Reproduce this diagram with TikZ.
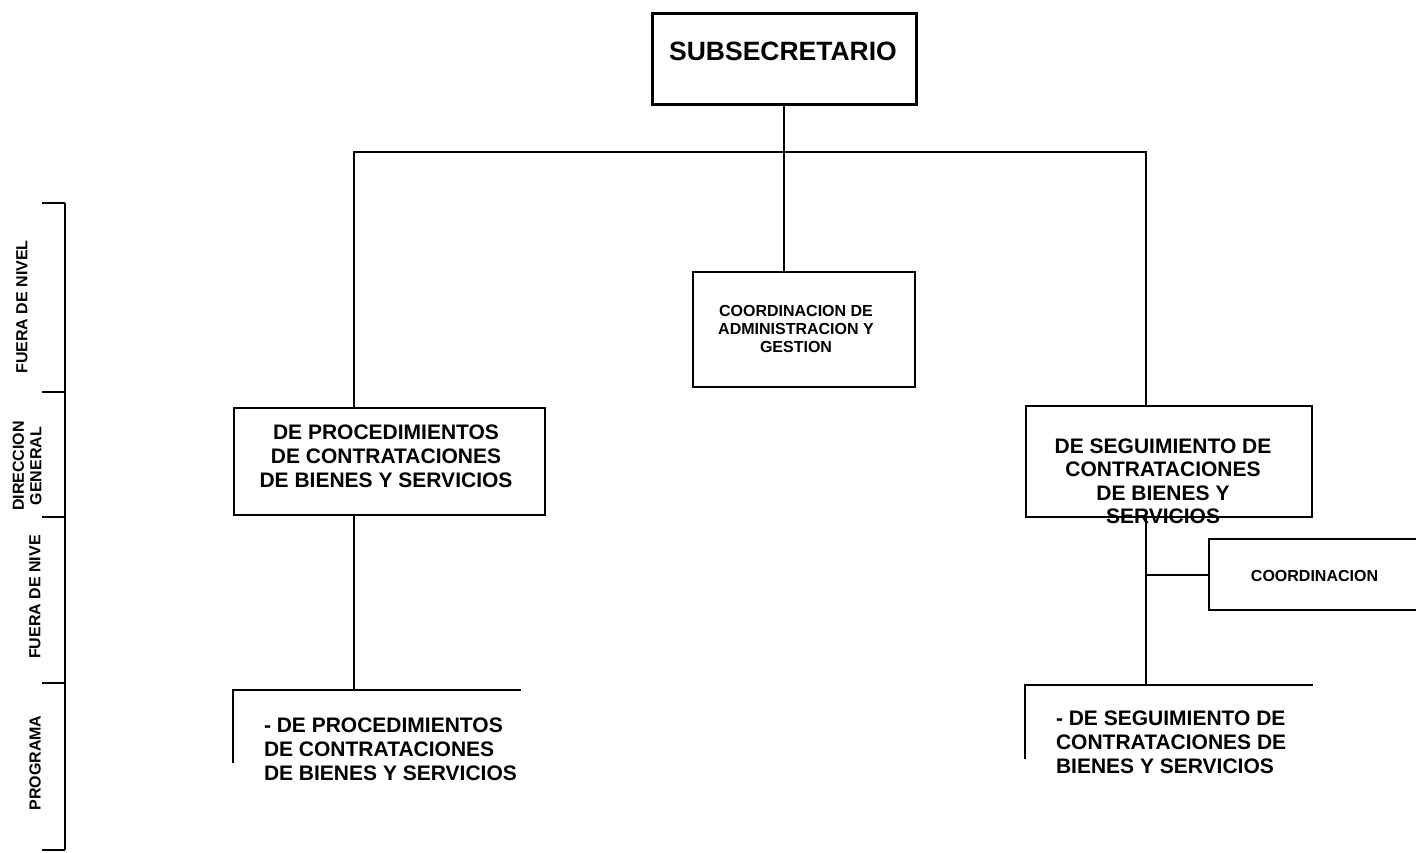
\documentclass[tikz,border=0pt]{standalone}
\usepackage{fontspec}
\setmainfont{Liberation Sans}
\tikzset{
	box/.style={draw, rectangle, inner sep=0pt},
	frame/.style={rectangle, inner sep=0pt},
	txt/.style={inner sep=0pt, align=center, font=\fontsize{21}{24}\selectfont\bfseries},
	smalltxt/.style={inner sep=0pt, align=center, font=\fontsize{16}{18}\selectfont\bfseries},
	side/.style={inner sep=0pt, align=center, rotate=90, font=\fontsize{16}{17.5}\selectfont\bfseries},
}
\begin{document}
\begin{tikzpicture}[x=1pt, y=-1pt, line width=2pt]
			\clip (0,0) rectangle (1416,852);
			% boxes
			\node[box, line width=3pt, minimum width=264pt, minimum height=91pt] (subsec) at (784,58.5) {};
			\node[box, minimum width=222pt, minimum height=115pt] (admin) at (804,329.5) {};
			\node[box, minimum width=311pt, minimum height=107pt] (proc) at (389.5,461.5) {};
			\node[box, minimum width=286pt, minimum height=111pt] (seg) at (1169,461.5) {};
			\node[box, minimum width=216pt, minimum height=71pt] (coord) at (1317,574.5) {};
			\node[frame, minimum width=286pt, minimum height=71pt] (progproc) at (377,726.5) {};
			\node[frame, minimum width=286pt, minimum height=72pt] (progseg) at (1169,722) {};
			\draw (progproc.north east) -- (progproc.north west) -- (progproc.south west);
			\draw (progseg.north east) -- (progseg.north west) -- (progseg.south west);
			% texts
			\node[txt, font=\fontsize{26.5}{30}\selectfont\bfseries] (subsectxt) at (783,51) {SUBSECRETARIO};
			\node[smalltxt] (admintxt) at (796,329) {COORDINACION DE\\ADMINISTRACION Y\\GESTION};
			\node[txt] (proctxt) at (386,456) {DE PROCEDIMIENTOS\\DE CONTRATACIONES\\DE BIENES Y SERVICIOS};
			\node[txt, font=\fontsize{21}{23.5}\selectfont\bfseries] (segtxt) at (1163,481.5) {DE SEGUIMIENTO DE\\CONTRATACIONES\\DE BIENES Y\\SERVICIOS};
			\node[smalltxt] (coordtxt) at (1314.5,576) {COORDINACION};
			\node[txt, align=left, anchor=west] (progproctxt) at (263,749.5) {- DE PROCEDIMIENTOS\\DE CONTRATACIONES\\DE BIENES Y SERVICIOS};
			\node[txt, align=left, anchor=west] (progsegtxt) at (1055,742.5) {- DE SEGUIMIENTO DE\\CONTRATACIONES DE\\BIENES Y SERVICIOS};
			% connectors
			\coordinate (barl) at (354,152);
			\coordinate (barr) at (1146,152);
			\draw (subsec.south) -- (subsec.south |- admin.north);
			\draw (barl |- proc.north) -- (barl) -- (barr) -- (barr |- seg.north);
			\draw (barl |- proc.south) -- (barl |- progproc.north);
			\draw (barr |- seg.south) -- (barr |- progseg.north);
			\draw (barr |- coord.west) -- (coord.west);
			% levels
			\coordinate (axtop) at (65,203);
			\coordinate (axbot) at (65,850);
			\draw (axtop) -- (axbot);
			\foreach \y in {203,392,517,683,850}
				\draw (42,\y) -- (axtop |- 0,\y);
			\node[side] (nivela) at (22,307) {FUERA DE NIVEL};
			\node[side] (direccion) at (27,466) {DIRECCION\\GENERAL};
			\node[side] (nivelb) at (35,597) {FUERA DE NIVE};
			\node[side] (programa) at (35,763) {PROGRAMA};
\end{tikzpicture}
\end{document}
